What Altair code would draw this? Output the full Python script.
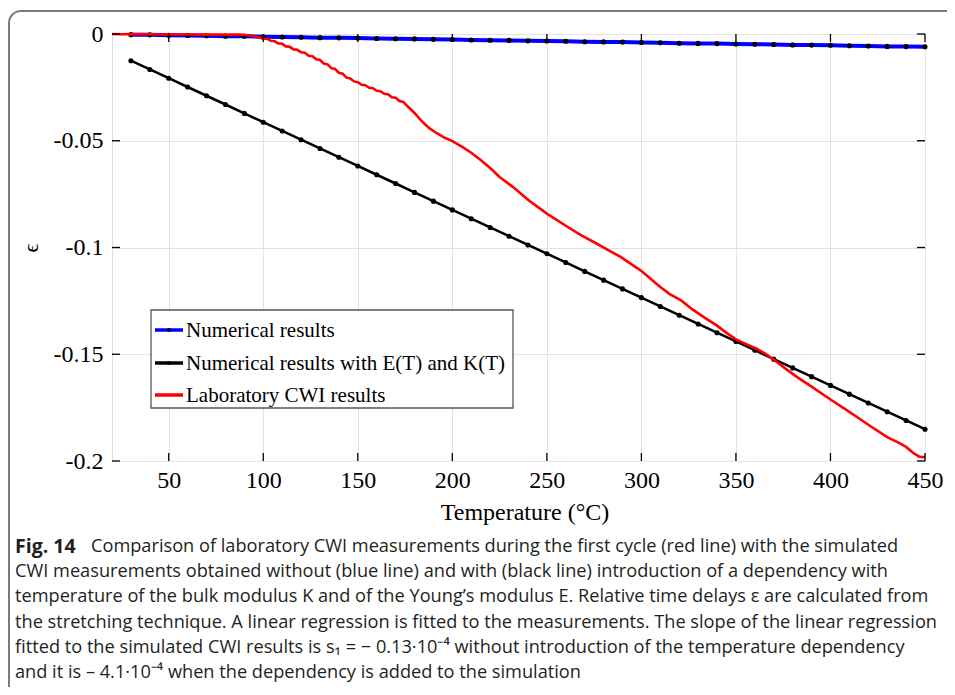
import altair as alt
import pandas as pd

# ---------------- data ----------------
sim_T = [30, 40, 50, 60, 70, 80, 90, 100, 110, 120, 130, 140, 150, 160, 170, 180, 190, 200,
         210, 220, 230, 240, 250, 260, 270, 280, 290, 300, 310, 320, 330, 340, 350, 360, 370,
         380, 390, 400, 410, 420, 430, 440, 450]

blue_eps = [-0.0003, -0.0004, -0.0006, -0.0007, -0.0008, -0.0010, -0.0011, -0.0013, -0.0014,
            -0.0015, -0.0017, -0.0018, -0.0019, -0.0021, -0.0022, -0.0023, -0.0025, -0.0026,
            -0.0028, -0.0029, -0.0030, -0.0032, -0.0033, -0.0034, -0.0036, -0.0037, -0.0038,
            -0.0040, -0.0041, -0.0043, -0.0044, -0.0045, -0.0047, -0.0048, -0.0049, -0.0051,
            -0.0052, -0.0053, -0.0055, -0.0056, -0.0058, -0.0059, -0.0060]

black_eps = [-0.0125, -0.0166, -0.0207, -0.0248, -0.0289, -0.0330, -0.0372, -0.0413, -0.0454,
             -0.0495, -0.0536, -0.0577, -0.0618, -0.0659, -0.0700, -0.0742, -0.0783, -0.0824,
             -0.0865, -0.0906, -0.0947, -0.0988, -0.1029, -0.1070, -0.1112, -0.1153, -0.1194,
             -0.1235, -0.1276, -0.1317, -0.1358, -0.1399, -0.1440, -0.1481, -0.1523, -0.1564,
             -0.1605, -0.1646, -0.1687, -0.1728, -0.1769, -0.1810, -0.1851]

red_T = [20, 25, 30, 40, 50, 60, 70, 80, 88, 92, 96, 100, 102, 104, 106, 108, 110, 112, 114,
         116, 118, 120, 122, 124, 126, 128, 130, 132, 134, 136, 138, 140, 142, 144, 146, 148,
         150, 152, 154, 156, 158, 160, 162, 164, 166, 168, 170, 172, 174, 176, 180, 184, 188,
         192, 196, 200, 205, 210, 215, 220, 225, 232, 240, 250, 260, 268, 276, 282, 289, 295,
         300, 305, 310, 315, 321, 327, 334, 340, 345, 350, 356, 361, 366, 370, 376, 382, 390,
         400, 407, 414, 422, 430, 436, 440, 444, 447, 450]
red_eps = [0.0000, -0.0001, 0.0000, -0.0001, -0.0002, -0.0002, -0.0003, -0.0003, -0.0002,
           -0.0006, -0.0012, -0.0022, -0.0022, -0.0032, -0.0034, -0.0044, -0.0046, -0.0058,
           -0.0060, -0.0072, -0.0074, -0.0086, -0.0088, -0.0102, -0.0104, -0.0118, -0.0122,
           -0.0138, -0.0142, -0.0160, -0.0164, -0.0182, -0.0186, -0.0204, -0.0208, -0.0222,
           -0.0226, -0.0238, -0.0240, -0.0252, -0.0254, -0.0266, -0.0268, -0.0280, -0.0282,
           -0.0296, -0.0298, -0.0314, -0.0318, -0.0336, -0.0370, -0.0410, -0.0442, -0.0466,
           -0.0486, -0.0502, -0.0528, -0.0556, -0.0590, -0.0628, -0.0670, -0.0716, -0.0776,
           -0.0841, -0.0898, -0.0942, -0.0980, -0.1010, -0.1044, -0.1080, -0.1110, -0.1148,
           -0.1185, -0.1218, -0.1248, -0.1290, -0.1332, -0.1366, -0.1400, -0.1430, -0.1455,
           -0.1474, -0.1500, -0.1525, -0.1566, -0.1605, -0.1652, -0.1712, -0.1752, -0.1794,
           -0.1842, -0.1888, -0.1914, -0.1934, -0.1964, -0.1980, -0.1982]

series_names = ["Numerical results", "Numerical results with E(T) and K(T)", "Laboratory CWI results"]
series_colors = ["#0000ff", "#000000", "#ff0000"]

x_ticks = [50, 100, 150, 200, 250, 300, 350, 400, 450]
y_ticks = [0, -0.05, -0.1, -0.15, -0.2]

caption_bold = "Fig. 14"
caption_lines = [
    "Comparison of laboratory CWI measurements during the first cycle (red line) with the simulated",
    "CWI measurements obtained without (blue line) and with (black line) introduction of a dependency with",
    "temperature of the bulk modulus K and of the Young\u2019s modulus E. Relative time delays \u03b5 are calculated from",
    "the stretching technique. A linear regression is fitted to the measurements. The slope of the linear regression",
    "fitted to the simulated CWI results is s\u2081 = \u2212 0.13\u00b710\u207b\u2074 without introduction of the temperature dependency",
    "and it is \u2013 4.1\u00b710\u207b\u2074 when the dependency is added to the simulation",
]

# ---------------- geometry ----------------
W, H = 813, 427
SERIF = "Liberation Serif"
SANS = "Open Sans"
TICK_FS = 24

blue_df = pd.DataFrame({"T": sim_T, "eps": blue_eps})
black_df = pd.DataFrame({"T": sim_T, "eps": black_eps})
red_df = pd.DataFrame({"T": red_T, "eps": red_eps})
xt_df = pd.DataFrame({"T": x_ticks})
yt_df = pd.DataFrame({"eps": y_ticks})

xs = alt.Scale(domain=[20, 450], nice=False, zero=False)
ys = alt.Scale(domain=[-0.2, 0], nice=False, zero=False)

x_axis = alt.Axis(values=x_ticks, title="Temperature (\u00b0C)", grid=True, gridColor="#e3e3e3",
                  gridWidth=1, domain=False, ticks=False, labelPadding=7, labelFont=SERIF,
                  labelFontSize=TICK_FS, labelColor="black", titleFont=SERIF, titleFontSize=24,
                  titleFontWeight="normal", titleColor="black", titleY=39, titleX=W / 2 + 6,
                  labelFlush=False)
y_axis = alt.Axis(values=y_ticks, title="\u03f5", grid=True, gridColor="#e3e3e3", gridWidth=1,
                  domain=False, ticks=False, labelPadding=9, labelFont=SERIF, labelFontSize=TICK_FS,
                  labelColor="black", titleFont=SERIF, titleFontSize=22, titleFontWeight="normal",
                  titleColor="black", titleX=-82, titleY=H / 2, titleAngle=270,
                  titleBaseline="middle", titleAlign="center", labelFlush=False,
                  labelExpr="datum.value == 0 ? '0' : '-' + format(abs(datum.value), '~g')")

ygrid = alt.Chart(yt_df).mark_rule(opacity=0).encode(
    x=alt.value(0), y=alt.Y("eps:Q", scale=ys, axis=y_axis))
xgrid = alt.Chart(xt_df).mark_rule(opacity=0).encode(
    x=alt.X("T:Q", scale=xs, axis=x_axis), y=alt.value(0))

# inward ticks
tick_bottom = alt.Chart(xt_df).mark_rule(color="black", strokeWidth=1.3).encode(
    x=alt.X("T:Q", scale=xs), y=alt.value(H), y2=alt.value(H - 8))
tick_top = alt.Chart(xt_df).mark_rule(color="black", strokeWidth=1.3).encode(
    x=alt.X("T:Q", scale=xs), y=alt.value(0), y2=alt.value(8))
tick_left = alt.Chart(yt_df).mark_rule(color="black", strokeWidth=1.3).encode(
    y=alt.Y("eps:Q", scale=ys), x=alt.value(0), x2=alt.value(8))
tick_right = alt.Chart(yt_df).mark_rule(color="black", strokeWidth=1.3).encode(
    y=alt.Y("eps:Q", scale=ys), x=alt.value(W), x2=alt.value(W - 8))

def xy():
    return dict(x=alt.X("T:Q", scale=xs), y=alt.Y("eps:Q", scale=ys))

blue_line = alt.Chart(blue_df).mark_line(color=series_colors[0], strokeWidth=4).encode(**xy())
blue_pts = alt.Chart(blue_df).mark_circle(color="black", size=26, opacity=1).encode(**xy())
black_line = alt.Chart(black_df).mark_line(color=series_colors[1], strokeWidth=2.6).encode(**xy())
black_pts = alt.Chart(black_df).mark_circle(color="black", size=26, opacity=1).encode(**xy())
red_line = alt.Chart(red_df).mark_line(color=series_colors[2], strokeWidth=2.6).encode(**xy())

# legend (drawn manually)
LX0, LY0, LX1, LY1 = 39, 276, 401, 374
legend_fill = alt.Chart().mark_rect(color="white").encode(
    x=alt.value(LX0), x2=alt.value(LX1), y=alt.value(LY0), y2=alt.value(LY1))
legend_box = alt.Chart().mark_rect(filled=False, stroke="#555555", strokeWidth=1.3).encode(
    x=alt.value(LX0), x2=alt.value(LX1), y=alt.value(LY0), y2=alt.value(LY1))
legend_layers = [legend_fill, legend_box]
entry_y = [296, 329, 361]
for i, name in enumerate(series_names):
    legend_layers.append(alt.Chart().mark_rule(color=series_colors[i], strokeWidth=3.5).encode(
        x=alt.value(43), x2=alt.value(71), y=alt.value(entry_y[i])))
    if i < 2:
        legend_layers.append(alt.Chart().mark_circle(color="black", size=16, opacity=1).encode(
            x=alt.value(57), y=alt.value(entry_y[i])))
    legend_layers.append(alt.Chart().mark_text(text=name, font=SERIF, fontSize=21, align="left",
                                               baseline="middle", color="black").encode(
        x=alt.value(74), y=alt.value(entry_y[i] + 1)))

# caption & frame
OX, OY = 112, 34
frame = alt.Chart().mark_rect(filled=False, stroke="#7a7a7a", strokeWidth=2, cornerRadius=12).encode(
    x=alt.value(9 - OX), x2=alt.value(990 - OX), y=alt.value(11 - OY), y2=alt.value(740 - OY))
cap_layers = [alt.Chart().mark_text(text=caption_bold, font=SANS, fontSize=19.5, fontWeight="bold",
                                    align="left", baseline="middle", color="#231f20").encode(
    x=alt.value(15 - OX), y=alt.value(547 - OY))]
cap_y = [547, 572, 597, 623, 648, 673]
for i, line in enumerate(caption_lines):
    x0 = 91 if i == 0 else 15
    cap_layers.append(alt.Chart().mark_text(text=line, font=SANS, fontSize=18.2, align="left",
                                            baseline="middle", color="#231f20").encode(
        x=alt.value(x0 - OX), y=alt.value(cap_y[i] - OY)))

chart = alt.layer(
    xgrid, ygrid,
    blue_line, blue_pts, black_line, black_pts, red_line,
    tick_bottom, tick_top, tick_left, tick_right,
    *legend_layers, frame, *cap_layers,
).properties(
    width=W, height=H,
    autosize=alt.AutoSizeParams(type="none"),
    padding={"left": 104, "top": 26, "right": 22, "bottom": 226},
).configure_view(stroke="black", strokeWidth=1.5).configure(background="white")

chart.save("out.html", embed_options={"renderer": "svg", "actions": False})
